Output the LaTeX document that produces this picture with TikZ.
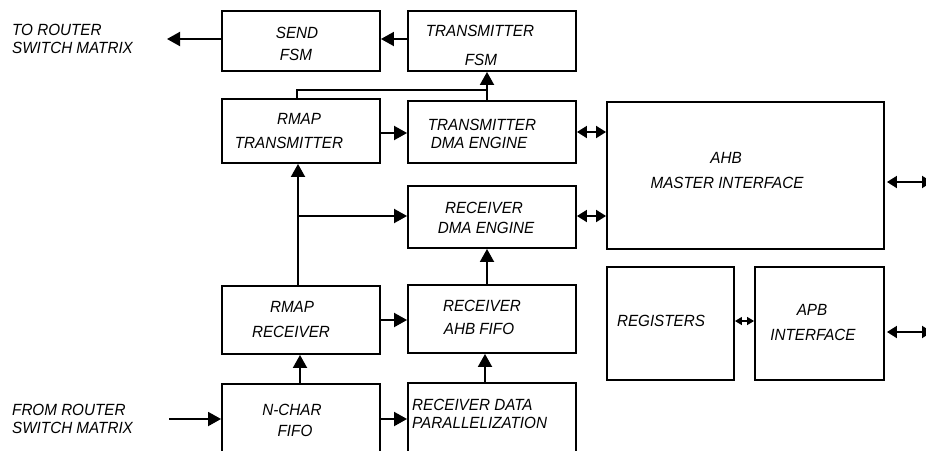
\documentclass[tikz,border=0pt]{standalone}
\usepackage{fontspec}
\setmainfont{Liberation Sans}[FakeStretch=0.94]
\usetikzlibrary{arrows.meta}
\begin{document}
\begin{tikzpicture}[x=1pt,y=-1pt,
  blk/.style={draw, line width=1.9pt, rectangle, inner sep=0pt},
  lbl/.style={font=\fontsize{16.2}{19}\selectfont\itshape, inner sep=0pt, anchor=base},
  lbll/.style={lbl, anchor=base west},
  wire/.style={line width=1.9pt},
  arr/.style={wire, -{Triangle[length=13pt,width=14pt]}},
  bi/.style={wire, {Triangle[length=10pt,width=12pt]}-{Triangle[length=10pt,width=12pt]}},
  bis/.style={line width=1.3pt, {Triangle[length=7pt,width=8pt]}-{Triangle[length=7pt,width=8pt]}},
]
\useasboundingbox (0,0) rectangle (926,450);
\clip (0,0) rectangle (926,450);

% blocks
\node[blk, minimum width=158pt, minimum height=60pt] (send)  at (301,41)  {};
\node[blk, minimum width=168pt, minimum height=60pt] (tfsm)  at (492,41)  {};
\node[blk, minimum width=158pt, minimum height=64pt] (rtx)   at (301,131) {};
\node[blk, minimum width=168pt, minimum height=62pt] (tdma)  at (492,132) {};
\node[blk, minimum width=168pt, minimum height=62pt] (rdma)  at (492,217) {};
\node[blk, minimum width=277pt, minimum height=147pt] (ahb)  at (745.5,175.5) {};
\node[blk, minimum width=158pt, minimum height=68pt] (rrx)   at (301,320) {};
\node[blk, minimum width=168pt, minimum height=68pt] (fifo)  at (492,319) {};
\node[blk, minimum width=127pt, minimum height=113pt] (regs) at (670.5,323.5) {};
\node[blk, minimum width=129pt, minimum height=113pt] (apb)  at (819.5,323.5) {};
\node[blk, minimum width=158pt, minimum height=86pt] (nchar) at (301,427) {};
\node[blk, minimum width=168pt, minimum height=87pt] (par)   at (492,426.5) {};

% labels
\node[lbll] (to1) at (12,35) {TO ROUTER};
\node[lbll] (to2) at (12,53) {SWITCH MATRIX};
\node[lbl] (send1) at (297,38) {SEND};
\node[lbl] (send2) at (296,60) {FSM};
\node[lbl] (tfsm1) at (480,36) {TRANSMITTER};
\node[lbl] (tfsm2) at (481,65) {FSM};
\node[lbl] (rtx1) at (299,124) {RMAP};
\node[lbl] (rtx2) at (289,148) {TRANSMITTER};
\node[lbl] (tdma1) at (482,130) {TRANSMITTER};
\node[lbl] (tdma2) at (479,148) {DMA ENGINE};
\node[lbl] (rdma1) at (484,213) {RECEIVER};
\node[lbl] (rdma2) at (486,233) {DMA ENGINE};
\node[lbl] (ahb1) at (726,163) {AHB};
\node[lbl] (ahb2) at (727,188) {MASTER INTERFACE};
\node[lbl] (rrx1) at (292,312) {RMAP};
\node[lbl] (rrx2) at (291,337) {RECEIVER};
\node[lbl] (fifo1) at (482,311) {RECEIVER};
\node[lbl] (fifo2) at (479,334) {AHB FIFO};
\node[lbl] (nchar1) at (292,415) {N-CHAR};
\node[lbl] (nchar2) at (295,436) {FIFO};
\node[lbll] (par1) at (412,410) {RECEIVER DATA};
\node[lbll] (par2) at (412,428) {PARALLELIZATION};
\node[lbl] (regs1) at (661,326) {REGISTERS};
\node[lbl] (apb1) at (812,315) {APB};
\node[lbl] (apb2) at (813,340) {INTERFACE};
\node[lbll] (from1) at (12,415) {FROM ROUTER};
\node[lbll] (from2) at (12,433) {SWITCH MATRIX};

% free ends and junctions
\coordinate (toR)   at (167,39);
\coordinate (fromR) at (169,419);
\coordinate (jt)    at (487,90);
\coordinate (jr)    at (298,216);
\coordinate (ahbR)  at (932,182);
\coordinate (apbR)  at (932,332);

% transmit path
\draw[arr] (send.west |- toR) -- (toR);
\draw[arr] (tfsm.west |- toR) -- (send.east |- toR);
\draw[wire] ([xshift=-4]rtx.north) |- (jt);
\draw[arr] (tdma.north -| jt) -- (tfsm.south -| jt);
\draw[arr] ([yshift=-2]rtx.east) -- ([yshift=-1]tdma.west);

% receive path
\draw[arr] (fromR) -- (nchar.west |- fromR);
\draw[arr] (nchar.east |- fromR) -- (par.west |- fromR);
\draw[arr] (nchar.north -| 300,0) -- (rrx.south -| 300,0);
\draw[arr] ([xshift=-7]par.north) -- ([xshift=-7]fifo.south);
\draw[arr] (rrx.east) -- (fifo.west |- rrx.east);
\draw[arr] ([xshift=-5]fifo.north) -- ([xshift=-5]rdma.south);
\draw[arr] (rrx.north -| jr) -- (rtx.south -| jr);
\draw[arr] (jr) -- (rdma.west |- jr);

% bus interfaces
\draw[bi] (tdma.east) -- (ahb.west |- tdma.east);
\draw[bi] ([yshift=1]rdma.east) -- (ahb.west |- jr);
\draw[bi, shorten <=2pt] (ahb.east |- ahbR) -- (ahbR);
\draw[bi, shorten <=2pt] (apb.east |- apbR) -- (apbR);
\draw[bis] ([yshift=2.5]regs.east) -- ([yshift=2.5]apb.west);
\end{tikzpicture}
\end{document}
